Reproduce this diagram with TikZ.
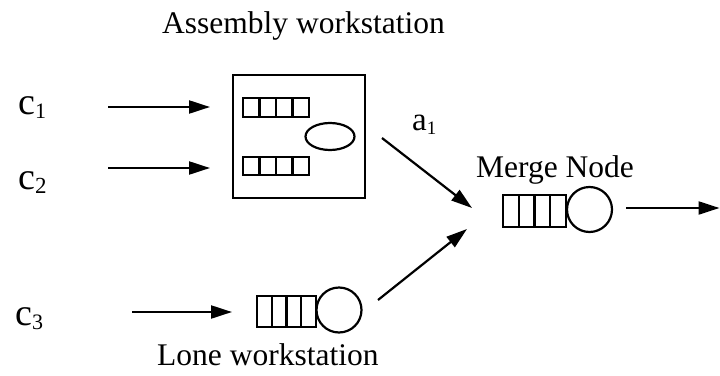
\documentclass[tikz,border=0pt]{standalone}
\usepackage{fontspec}
\setmainfont{Liberation Serif}
\usetikzlibrary{arrows.meta,shapes.geometric,calc}
% letter with a lowered index, e.g. c_1
\newcommand{\idx}[4]{{\fontsize{#1}{#1}\selectfont #2}\raisebox{-4pt}{\fontsize{#3}{#3}\selectfont #4}}
\begin{document}
\begin{tikzpicture}[x=1pt,y=-1pt,
  lw/.style={line width=2.2pt},
  arr/.style={line width=2.2pt,-{Triangle[length=21pt,width=13pt]}},
  lbl/.style={inner sep=0pt,anchor=base west,font=\fontsize{31.5}{34}\selectfont},
  queue/.style={draw,lw,inner sep=0pt,minimum width=#1,
    path picture={
      \foreach \i in {1,2,3}{
        \draw[lw] ($(path picture bounding box.south west)!\i/4!(path picture bounding box.south east)$)
              -- ($(path picture bounding box.north west)!\i/4!(path picture bounding box.north east)$);}}},
  server/.style={draw,lw,circle,inner sep=0pt,minimum size=#1}]
\fill[white] (0,0) rectangle (720,375);
\useasboundingbox (0,0) rectangle (720,375);

% labels
\node[lbl] (title) at (162,33) {Assembly workstation};
\node[lbl] (merge) at (476,177) {Merge Node};
\node[lbl] (lone)  at (157,365) {Lone workstation};
\node[inner sep=0pt,anchor=base west] (c1) at (18,114) {\idx{38}{c}{22}{1}};
\node[inner sep=0pt,anchor=base west] (c2) at (18,189) {\idx{38}{c}{23}{2}};
\node[inner sep=0pt,anchor=base west] (c3) at (15,325) {\idx{38}{c}{22}{3}};
\node[inner sep=0pt,anchor=base west] (a1) at (412,130) {\idx{33}{a}{19}{1}};

% assembly workstation
\node[draw,lw,inner sep=0pt,minimum width=132pt,minimum height=123pt] (asm) at (299,136.5) {};
\node[queue=66pt,minimum height=19pt] (q1) at (276,107.5) {};
\node[queue=66pt,minimum height=18pt] (q2) at (276,166) {};
\node[draw,lw,ellipse,inner sep=0pt,minimum width=49pt,minimum height=27pt] (srv) at (330,136.5) {};

% lone workstation
\node[queue=59pt,minimum height=31pt] (lq) at (286.5,311.5) {};
\node[server=45pt] (ls) at (339,310) {};

% merge node
\node[queue=63pt,minimum height=32pt] (mq) at (534.5,211) {};
\node[server=45pt] (ms) at (589.5,209.5) {};

% arrow ends
\coordinate (c1s) at (108,107);
\coordinate (c1e) at (210,107);
\coordinate (c2s) at (108,168);
\coordinate (c2e) at (210,168);
\coordinate (c3s) at (132,312);
\coordinate (c3e) at (232,312);
\coordinate (a1s) at (382,138);
\coordinate (a1e) at (472,208);
\coordinate (lns) at (378,300);
\coordinate (lne) at (467,229);
\coordinate (outs) at (626,208);
\coordinate (oute) at (719.5,208);

\draw[arr] (c1s) -- (c1e);
\draw[arr] (c2s) -- (c2e);
\draw[arr] (c3s) -- (c3e);
\draw[arr] (a1s) -- (a1e);
\draw[arr] (lns) -- (lne);
\draw[arr] (outs) -- (oute);
\end{tikzpicture}
\end{document}
